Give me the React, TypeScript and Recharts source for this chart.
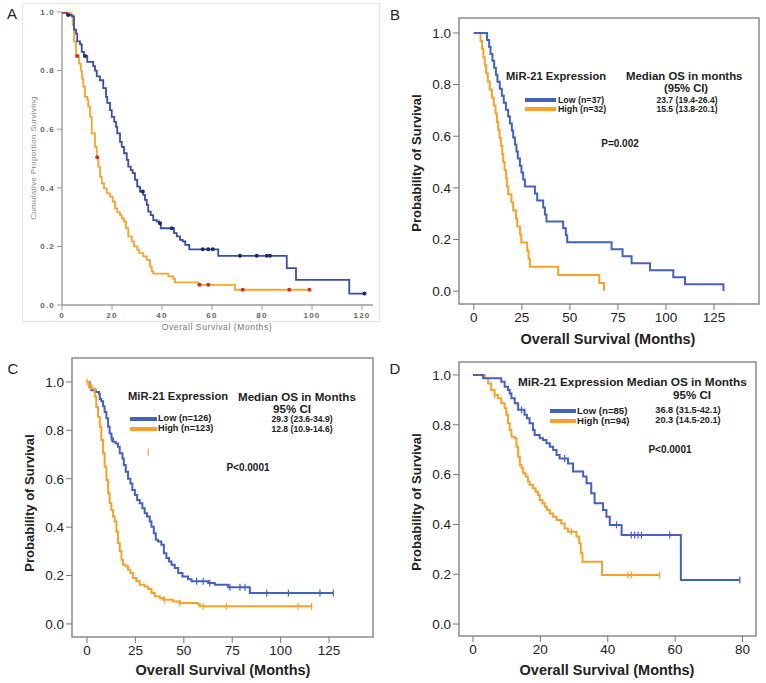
import React from 'react';
import { ComposedChart, Line, Scatter, XAxis, YAxis, ReferenceArea } from 'recharts';

type P = [number, number];
const FONT = '"Liberation Sans", Arial, Helvetica, sans-serif';
const W = 766;
const H = 683;

// ---------- shared ticks ----------
const yTicks = [0, 0.2, 0.4, 0.6, 0.8, 1.0];
const aXTicks = [0, 20, 40, 60, 80, 100, 120];
const bcXTicks = [0, 25, 50, 75, 100, 125];
const dXTicks = [0, 20, 40, 60, 80];

// ---------- Panel A ----------
const aLow: P[] = [
  [0, 1], [2.0, 0.99], [3.9, 0.985], [4.8, 0.94], [5.6, 0.926], [6.1, 0.9], [7.2, 0.89], [7.9, 0.864],
  [8.8, 0.85], [10.1, 0.83], [12.5, 0.815], [13.2, 0.8], [13.9, 0.78], [15.2, 0.767], [16.5, 0.74],
  [17.6, 0.71], [18.1, 0.69], [19.2, 0.665], [19.9, 0.642], [20.9, 0.625], [21.6, 0.608], [22.1, 0.586],
  [23.2, 0.557], [23.9, 0.54], [24.8, 0.518], [25.9, 0.495], [26.5, 0.472], [27.5, 0.46], [28.3, 0.45],
  [29.2, 0.427], [30.1, 0.404], [31.2, 0.387], [32.5, 0.376], [33.2, 0.359], [33.9, 0.342], [34.5, 0.319],
  [35.5, 0.307], [36.5, 0.29], [37.9, 0.285], [38.9, 0.279], [39.5, 0.262], [44.8, 0.245], [45.9, 0.234],
  [47.2, 0.222], [48.3, 0.217], [49.3, 0.205], [50.9, 0.19], [62.5, 0.168], [89.9, 0.126], [93.6, 0.086],
  [114.9, 0.039], [121, 0.039],
];
const aLowCens = [2.5, 9.2, 32.3, 39.2, 43.9, 56.3, 58.5, 60.3, 71.2, 77.9, 81.9, 83.2, 121];
const aHigh: P[] = [
  [0, 1], [3.5, 0.99], [4.3, 0.955], [4.8, 0.9], [5.6, 0.85], [6.8, 0.824], [7.5, 0.8], [8.0, 0.773],
  [8.5, 0.745], [9.2, 0.71], [10.1, 0.7], [10.5, 0.676], [11.2, 0.642], [11.9, 0.586], [13.2, 0.54],
  [13.9, 0.504], [14.5, 0.472], [15.2, 0.438], [15.9, 0.415], [16.8, 0.398], [17.9, 0.381], [19.2, 0.37],
  [20.3, 0.353], [21.2, 0.33], [22.1, 0.316], [23.2, 0.307], [23.9, 0.296], [24.8, 0.285], [25.6, 0.262],
  [26.5, 0.234], [27.9, 0.217], [28.8, 0.2], [30.1, 0.188], [30.9, 0.177], [32.5, 0.166], [33.9, 0.154],
  [35.2, 0.13], [35.9, 0.115], [36.5, 0.107], [42.5, 0.098], [44.5, 0.089], [45.2, 0.077], [54.5, 0.069],
  [69.2, 0.052], [99, 0.052],
];
const aHighCens = [0.1, 1.2, 6.1, 14.1, 55.0, 58.5, 72.3, 90.9, 99];

// ---------- Panel B ----------
const bLow: P[] = [
  [0, 1], [6.9, 0.973], [8.0, 0.946], [8.7, 0.919], [9.7, 0.892], [10.6, 0.865], [11.5, 0.838], [12.3, 0.811],
  [13.5, 0.784], [14.6, 0.757], [15.6, 0.73], [16.7, 0.703], [17.9, 0.676], [18.8, 0.649], [19.8, 0.622],
  [20.5, 0.595], [21.4, 0.568], [22.2, 0.541], [22.9, 0.514], [24.0, 0.486], [24.8, 0.459], [25.7, 0.432],
  [26.6, 0.405], [31.8, 0.378], [33.0, 0.351], [36.1, 0.324], [37.0, 0.297], [37.8, 0.27], [46.5, 0.243],
  [47.9, 0.216], [48.6, 0.189], [71.7, 0.162], [77.4, 0.135], [82.1, 0.108], [91.7, 0.081], [103.8, 0.054],
  [109.9, 0.027], [129.9, 0],
];
const bHigh: P[] = [
  [0, 1], [3.5, 0.969], [4.3, 0.938], [5.0, 0.906], [5.7, 0.875], [6.4, 0.844], [7.3, 0.812], [8.3, 0.781],
  [9.4, 0.75], [10.4, 0.719], [11.3, 0.688], [12.0, 0.656], [12.7, 0.625], [13.4, 0.594], [14.1, 0.562],
  [14.8, 0.531], [15.3, 0.5], [16.0, 0.469], [16.7, 0.438], [17.2, 0.406], [17.9, 0.375], [19.6, 0.344],
  [20.5, 0.312], [21.9, 0.281], [22.6, 0.25], [24.0, 0.219], [24.7, 0.188], [27.8, 0.156], [28.5, 0.125],
  [29.2, 0.094], [43.9, 0.062], [65.3, 0.031], [67.7, 0],
];

// ---------- Panel C ----------
const cLow: P[] = [
  [0, 1], [1.4, 0.98], [2.2, 0.966], [4.5, 0.959], [6.2, 0.95], [6.6, 0.93], [7.4, 0.92], [8.3, 0.9],
  [9.1, 0.876], [10.0, 0.85], [10.9, 0.815], [11.7, 0.787], [12.6, 0.766], [13.4, 0.753], [14.8, 0.746],
  [16.0, 0.732], [16.9, 0.705], [18.3, 0.684], [19.0, 0.657], [20.0, 0.629], [21.2, 0.6], [22.4, 0.58],
  [23.4, 0.553], [24.7, 0.533], [25.9, 0.512], [27.2, 0.499], [28.6, 0.478], [29.8, 0.457], [31.0, 0.444],
  [32.4, 0.423], [33.3, 0.402], [34.5, 0.375], [35.5, 0.348], [36.7, 0.341], [38.4, 0.327], [39.7, 0.292],
  [41.0, 0.272], [42.4, 0.258], [43.6, 0.245], [45.3, 0.231], [47.1, 0.21], [49.3, 0.196], [52.2, 0.185],
  [54.0, 0.176], [62.6, 0.169], [66.0, 0.162], [72.9, 0.152], [84.1, 0.128], [127.2, 0.128],
];
const cLowCens = [12.8, 56.6, 60, 63.4, 73.8, 79, 81.6, 92.8, 104, 120.3, 127.2];
const cHigh: P[] = [
  [0, 1], [1.0, 0.986], [2.2, 0.973], [4.0, 0.94], [4.8, 0.897], [5.7, 0.856], [6.6, 0.815], [7.4, 0.76],
  [8.3, 0.705], [9.1, 0.65], [10.0, 0.595], [10.9, 0.54], [11.7, 0.499], [12.6, 0.471], [13.4, 0.444],
  [14.3, 0.423], [15.2, 0.382], [16.0, 0.334], [16.9, 0.3], [17.8, 0.265], [18.6, 0.245], [20.0, 0.238],
  [21.2, 0.224], [22.4, 0.21], [23.8, 0.19], [25.5, 0.176], [27.2, 0.162], [29.8, 0.155], [31.6, 0.144],
  [33.3, 0.128], [35.0, 0.114], [37.6, 0.107], [39.3, 0.1], [44.5, 0.093], [47.9, 0.087], [57.4, 0.08],
  [58.3, 0.073], [116, 0.073],
];
const cHighCens = [0, 1.0, 40, 48, 60, 72, 109, 116];
const cStray: P[] = [[31.6, 0.71]];

// ---------- Panel D ----------
const dLow: P[] = [
  [0, 1], [3.0, 0.987], [8.4, 0.973], [9.4, 0.953], [10.4, 0.94], [10.9, 0.926], [11.4, 0.906], [12.4, 0.886],
  [13.4, 0.86], [15.3, 0.84], [16.0, 0.826], [16.8, 0.806], [17.8, 0.779], [18.3, 0.759], [19.8, 0.746],
  [20.8, 0.739], [21.8, 0.726], [22.8, 0.712], [23.8, 0.699], [24.8, 0.679], [25.7, 0.665], [28.2, 0.645],
  [29.7, 0.612], [32.7, 0.592], [33.7, 0.565], [35.1, 0.525], [36.1, 0.485], [38.6, 0.458], [39.6, 0.431],
  [40.6, 0.398], [44.1, 0.357], [61.7, 0.177], [79.2, 0.177],
];
const dLowCens = [14.4, 27.2, 42.6, 47.0, 48.0, 49.0, 50.0, 58.4, 79.2];
const dHigh: P[] = [
  [0, 1], [3.5, 0.987], [4.5, 0.966], [5.4, 0.94], [6.4, 0.92], [7.4, 0.906], [8.4, 0.886], [9.4, 0.866],
  [9.9, 0.84], [10.4, 0.806], [10.9, 0.779], [11.4, 0.752], [12.4, 0.746], [12.9, 0.712], [13.4, 0.672],
  [13.9, 0.639], [14.4, 0.625], [14.9, 0.605], [15.6, 0.592], [16.3, 0.572], [16.8, 0.558], [17.8, 0.545],
  [18.6, 0.531], [19.3, 0.518], [19.8, 0.498], [20.6, 0.485], [21.3, 0.471], [22.0, 0.458], [22.8, 0.444],
  [23.8, 0.431], [24.8, 0.418], [26.2, 0.404], [27.2, 0.384], [28.2, 0.371], [30.7, 0.351], [31.5, 0.324],
  [32.0, 0.284], [32.5, 0.25], [38.3, 0.197], [55.4, 0.197],
];
const dHighCens = [6.4, 29.2, 46.0, 47.0, 55.4];

// ---------- colours ----------
const BLUE = '#4362c0';
const ORANGE = '#f7a12b';
const A_BLUE = '#3a4da6';
const A_ORANGE = '#f6a52d';

// ---------- helpers ----------
const toLine = (pts: P[]) => pts.map(([t, s]) => ({ t, s }));
const survAt = (pts: P[], t: number) => {
  let s = pts[0][1];
  for (const [tt, ss] of pts) if (tt <= t) s = ss;
  return s;
};
const toCens = (pts: P[], times: number[]) => times.map((t) => ({ t, s: survAt(pts, t) }));

type Series = {
  pts: P[];
  cens: { t: number; s: number }[];
  color: string;
  censColor: string;
  dot: 'dot' | 'tick';
  width: number;
};

type KMProps = {
  box: { left: number; top: number; right: number; bottom: number };
  xDomain: [number, number];
  yDomain: [number, number];
  xTicks: number[];
  yWidth: number;
  xHeight: number;
  tickSize: number;
  tickFont: any;
  frame: boolean;
  axisColor: string;
  series: Series[];
};

function KM(p: KMProps) {
  const margin = {
    top: p.box.top,
    left: p.box.left - p.yWidth,
    right: W - p.box.right,
    bottom: H - p.box.bottom - p.xHeight,
  };
  const axisLine = p.frame ? false : { stroke: p.axisColor, strokeWidth: 1.3 };
  return (
    <div style={{ position: 'absolute', left: 0, top: 0 }}>
      <ComposedChart width={W} height={H} margin={margin}>
        <XAxis
          type="number"
          dataKey="t"
          domain={p.xDomain}
          ticks={p.xTicks}
          interval={0}
          allowDataOverflow
          height={p.xHeight}
          tickSize={p.tickSize}
          tickLine={{ stroke: p.axisColor }}
          axisLine={axisLine}
          tick={p.tickFont}
        />
        <YAxis
          type="number"
          dataKey="s"
          domain={p.yDomain}
          ticks={yTicks}
          interval={0}
          allowDataOverflow
          width={p.yWidth}
          tickSize={p.tickSize}
          tickLine={{ stroke: p.axisColor }}
          axisLine={axisLine}
          tick={p.tickFont}
          tickFormatter={(v: number) => v.toFixed(1)}
        />
        {p.frame && (
          <ReferenceArea
            x1={p.xDomain[0]}
            x2={p.xDomain[1]}
            y1={p.yDomain[0]}
            y2={p.yDomain[1]}
            fill="none"
            stroke="#8c8c8c"
            strokeWidth={1.5}
            ifOverflow="visible"
          />
        )}
        {p.series.map((s, i) => (
          <Line
            key={'l' + i}
            data={toLine(s.pts)}
            dataKey="s"
            type="stepAfter"
            stroke={s.color}
            strokeWidth={s.width}
            dot={false}
            activeDot={false}
            isAnimationActive={false}
          />
        ))}
        {p.series.map((s, i) => (
          <Scatter
            key={'c' + i}
            data={s.cens}
            dataKey="s"
            isAnimationActive={false}
            shape={(sp: any) =>
              s.dot === 'dot' ? (
                <circle cx={sp.cx} cy={sp.cy} r={2} fill={s.censColor} />
              ) : (
                <path d={`M${sp.cx},${sp.cy - 3.5}V${sp.cy + 3.5}`} stroke={s.censColor} strokeWidth={1.2} />
              )
            }
          />
        ))}
      </ComposedChart>
    </div>
  );
}

const T = ({
  x, y, a = 'middle', s, w = 700, c = '#222', rot, ls, children,
}: {
  x: number; y: number; a?: 'start' | 'middle' | 'end'; s: number; w?: number; c?: string; rot?: number; ls?: number; children: React.ReactNode;
}) => (
  <div
    style={{
      position: 'absolute',
      left: x,
      top: y,
      transform: `translate(${a === 'start' ? '0' : a === 'end' ? '-100%' : '-50%'}, -50%)${rot ? ` rotate(${rot}deg)` : ''}`,
      fontSize: s,
      fontWeight: w,
      color: c,
      fontFamily: FONT,
      whiteSpace: 'nowrap',
      lineHeight: 1,
      letterSpacing: ls,
    }}
  >
    {children}
  </div>
);

const Swatch = ({ x, y, w, color }: { x: number; y: number; w: number; color: string }) => (
  <div style={{ position: 'absolute', left: x, top: y - 2, width: w, height: 4, background: color }} />
);

const bigTick = { fontSize: 13.5, fill: '#222', fontFamily: FONT };
const aTick = { fontSize: 8, fontWeight: 700, fill: '#666', fontFamily: FONT, letterSpacing: 1.2 };

export default function App() {
  return (
    <div style={{ position: 'absolute', left: 0, top: 0, width: W, height: H, background: '#fff', overflow: 'hidden' }}>
      {/* Panel A frame */}
      <div style={{ position: 'absolute', left: 22, top: 3, width: 356, height: 317, border: '1px solid #e4e4e4' }} />

      <KM
        box={{ left: 62, top: 12, right: 373, bottom: 305 }}
        xDomain={[0, 124.4]}
        yDomain={[0, 1]}
        xTicks={aXTicks}
        yWidth={40}
        xHeight={20}
        tickSize={5}
        tickFont={aTick}
        frame={false}
        axisColor="#9a9a9a"
        series={[
          { pts: aHigh, cens: toCens(aHigh, aHighCens), color: A_ORANGE, censColor: '#c8312e', dot: 'dot', width: 1.8 },
          { pts: aLow, cens: toCens(aLow, aLowCens), color: A_BLUE, censColor: '#1d2b6e', dot: 'dot', width: 1.8 },
        ]}
      />
      <KM
        box={{ left: 459, top: 18, right: 759, bottom: 304 }}
        xDomain={[-7.7, 148.4]}
        yDomain={[-0.05, 1.058]}
        xTicks={bcXTicks}
        yWidth={50}
        xHeight={30}
        tickSize={6}
        tickFont={bigTick}
        frame
        axisColor="#777"
        series={[
          { pts: bHigh, cens: [], color: ORANGE, censColor: ORANGE, dot: 'tick', width: 2 },
          { pts: bLow, cens: [], color: BLUE, censColor: BLUE, dot: 'tick', width: 2 },
        ]}
      />
      <KM
        box={{ left: 72, top: 358, right: 373, bottom: 637 }}
        xDomain={[-7.75, 147.7]}
        yDomain={[-0.054, 1.099]}
        xTicks={bcXTicks}
        yWidth={50}
        xHeight={30}
        tickSize={6}
        tickFont={bigTick}
        frame
        axisColor="#777"
        series={[
          { pts: cLow, cens: toCens(cLow, cLowCens), color: BLUE, censColor: BLUE, dot: 'tick', width: 2 },
          { pts: cHigh, cens: toCens(cHigh, cHighCens), color: ORANGE, censColor: ORANGE, dot: 'tick', width: 2 },
          { pts: [], cens: cStray.map(([t, s]) => ({ t, s })), color: ORANGE, censColor: ORANGE, dot: 'tick', width: 2 },
        ]}
      />
      <KM
        box={{ left: 459, top: 362, right: 756, bottom: 636 }}
        xDomain={[-4.15, 84.0]}
        yDomain={[-0.048, 1.052]}
        xTicks={dXTicks}
        yWidth={50}
        xHeight={30}
        tickSize={6}
        tickFont={bigTick}
        frame
        axisColor="#777"
        series={[
          { pts: dHigh, cens: toCens(dHigh, dHighCens), color: ORANGE, censColor: ORANGE, dot: 'tick', width: 2 },
          { pts: dLow, cens: toCens(dLow, dLowCens), color: BLUE, censColor: BLUE, dot: 'tick', width: 2 },
        ]}
      />

      {/* panel letters */}
      <T x={12} y={13} s={15} w={400}>A</T>
      <T x={395} y={14} s={15} w={400}>B</T>
      <T x={13} y={368} s={15} w={400}>C</T>
      <T x={395} y={368} s={15} w={400}>D</T>

      {/* Panel A axis titles */}
      <T x={34} y={158} s={8} w={400} c="#888" rot={-90} ls={0.3}>Cumulative Proportion Surviving</T>
      <T x={217} y={327} s={8.5} w={400} c="#777" ls={0.6}>Overall Survival (Months)</T>

      {/* Panel B texts */}
      <T x={416} y={163} s={13} rot={-90}>Probability of Survival</T>
      <T x={608} y={339} s={14.5}>Overall Survival (Months)</T>
      <T x={506} y={76.5} s={11.2} a="start">MiR-21 Expression</T>
      <T x={626} y={76.5} s={11.4} a="start">Median OS in months</T>
      <T x={686} y={88.5} s={11.2}>(95% CI)</T>
      <Swatch x={525} y={99.5} w={31} color={BLUE} />
      <Swatch x={525} y={108.5} w={31} color={ORANGE} />
      <T x={558} y={99.5} s={8.8} a="start">Low (n=37)</T>
      <T x={558} y={108.5} s={8.8} a="start">High (n=32)</T>
      <T x={687} y={99.5} s={8.6}>23.7 (19.4-26.4)</T>
      <T x={687} y={108.5} s={8.6}>15.5 (13.8-20.1)</T>
      <T x={620} y={144} s={10}>P=0.002</T>

      {/* Panel C texts */}
      <T x={29} y={503} s={13} rot={-90}>Probability of Survival</T>
      <T x={223} y={670} s={14.5}>Overall Survival (Months)</T>
      <T x={128} y={396.5} s={11.2} a="start">MiR-21 Expression</T>
      <T x={238} y={396.5} s={11.6} a="start">Median OS in Months</T>
      <T x={292} y={408.5} s={11.6}>95% CI</T>
      <Swatch x={130} y={419} w={27} color={BLUE} />
      <Swatch x={130} y={428.5} w={27} color={ORANGE} />
      <T x={158} y={419} s={9.2} a="start">Low (n=126)</T>
      <T x={158} y={428.5} s={9.2} a="start">High (n=123)</T>
      <T x={302} y={419} s={8.6}>29.3 (23.6-34.9)</T>
      <T x={302} y={428.5} s={8.6}>12.8 (10.9-14.6)</T>
      <T x={248} y={468} s={10}>P&lt;0.0001</T>

      {/* Panel D texts */}
      <T x={416} y={502} s={13} rot={-90}>Probability of Survival</T>
      <T x={607} y={670} s={14.5}>Overall Survival (Months)</T>
      <T x={518} y={382.5} s={11.8} a="start">MiR-21 Expression Median OS in Months</T>
      <T x={692} y={394.5} s={11.6}>95% CI</T>
      <Swatch x={550} y={411} w={26} color={BLUE} />
      <Swatch x={550} y={421} w={26} color={ORANGE} />
      <T x={577} y={411} s={9.6} a="start">Low (n=85)</T>
      <T x={577} y={421} s={9.6} a="start">High (n=94)</T>
      <T x={688} y={411} s={9.2}>36.8 (31.5-42.1)</T>
      <T x={688} y={421} s={9.2}>20.3 (14.5-20.1)</T>
      <T x={670} y={450} s={10}>P&lt;0.0001</T>
    </div>
  );
}
